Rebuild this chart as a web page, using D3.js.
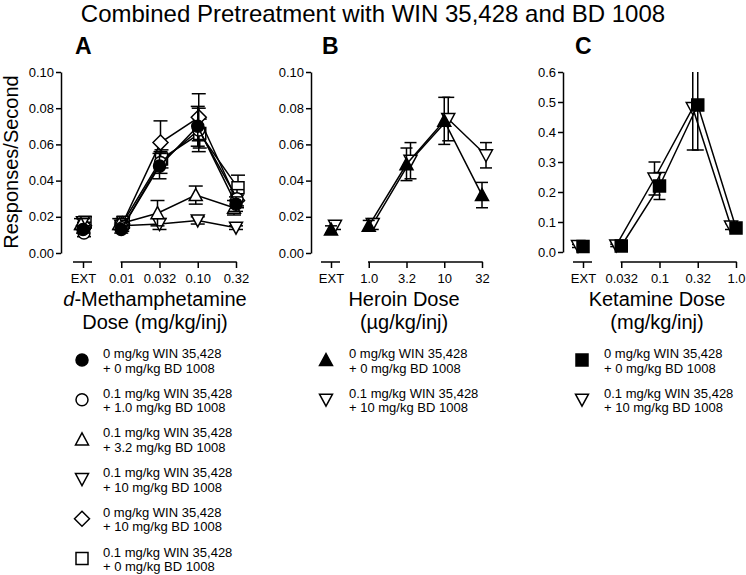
<!DOCTYPE html>
<html lang="en">
<head>
<meta charset="UTF-8">
<title>Combined Pretreatment with WIN 35,428 and BD 1008</title>
<script src="https://d3js.org/d3.v7.min.js"></script>
<style>
  body { margin: 0; background: #fff; }
  svg { display: block; font-family: "Liberation Sans", Arial, sans-serif; }
</style>
</head>
<body>
<script>
const width = 746, height = 575;

// ---- data ----
// panel A: d-methamphetamine
const methDoses = ["EXT", "0.01", "0.032", "0.10", "0.32"];
const methYTicks = [0, 0.02, 0.04, 0.06, 0.08, 0.10];
const methCtrl      = [0.013, 0.013, 0.048, 0.070, 0.027];
const methCtrlErr   = [0.002, 0.002, 0.007, 0.011, 0.004];
const methW01B1     = [0.011, 0.014, 0.050, 0.068, 0.030];
const methW01B1Err  = [0.002, 0.002, 0.006, 0.012, 0.005];
const methW01B32    = [0.016, 0.016, 0.022, 0.032, 0.025];
const methW01B32Err = [0.003, 0.003, 0.007, 0.005, 0.004];
const methW01B10    = [0.017, 0.015, 0.016, 0.018, 0.014];
const methW01B10Err = [0.002, 0.002, 0.003, 0.002, 0.001];
const methW0B10     = [0.015, 0.016, 0.061, 0.075, 0.029];
const methW0B10Err  = [0.002, 0.003, 0.012, 0.013, 0.003];
const methW01B0     = [0.017, 0.017, 0.052, 0.066, 0.036];
const methW01B0Err  = [0.003, 0.003, 0.005, 0.008, 0.007];

// panel B: heroin
const heroinDoses = ["EXT", "1.0", "3.2", "10", "32"];
const heroinYTicks = [0, 0.02, 0.04, 0.06, 0.08, 0.10];
const heroinCtrl     = [0.013, 0.015, 0.049, 0.073, 0.032];
const heroinCtrlErr  = [0.002, 0.003, 0.009, 0.013, 0.007];
const heroinCombo    = [0.015, 0.016, 0.051, 0.074, 0.054];
const heroinComboErr = [0.002, 0.003, 0.010, 0.012, 0.007];

// panel C: ketamine
const ketDoses = ["EXT", "0.032", "0.1", "0.32", "1.0"];
const ketYTicks = [0, 0.1, 0.2, 0.3, 0.4, 0.5, 0.6];
const ketCtrl     = [0.018, 0.020, 0.220, 0.490, 0.080];
const ketCtrlErr  = [0.005, 0.004, 0.045, 0.150, 0.010];
const ketCombo    = [0.020, 0.022, 0.245, 0.480, 0.085];
const ketComboErr = [0.005, 0.004, 0.055, 0.140, 0.010];

const legendCtrl = ["0 mg/kg WIN 35,428", "+ 0 mg/kg BD 1008"];
const legendW01B1 = ["0.1 mg/kg WIN 35,428", "+ 1.0 mg/kg BD 1008"];
const legendW01B32 = ["0.1 mg/kg WIN 35,428", "+ 3.2 mg/kg BD 1008"];
const legendW01B10 = ["0.1 mg/kg WIN 35,428", "+ 10 mg/kg BD 1008"];
const legendW0B10 = ["0 mg/kg WIN 35,428", "+ 10 mg/kg BD 1008"];
const legendW01B0 = ["0.1 mg/kg WIN 35,428", "+ 0 mg/kg BD 1008"];

// ---- layout ----
const panels = [
  {
    letter: "A", letterX: 75, cats: methDoses, xRange: [83, 236], axisX: 61,
    yTop: 72, yBottom: 253, yMax: 0.10, yTicks: methYTicks, fmt: ".2f", cap: 14,
    title: [["d", "-Methamphetamine"], "Dose (mg/kg/inj)"], titleX: 155,
    legendX: 82, textX: 103,
    series: [
      {values: methCtrl, err: methCtrlErr, shape: "circle", filled: true, dx: 0, legend: legendCtrl},
      {values: methW01B1, err: methW01B1Err, shape: "circle", filled: false, dx: 1, legend: legendW01B1},
      {values: methW01B32, err: methW01B32Err, shape: "triUp", filled: false, dx: -2, legend: legendW01B32},
      {values: methW01B10, err: methW01B10Err, shape: "triDown", filled: false, dx: 0, legend: legendW01B10},
      {values: methW0B10, err: methW0B10Err, shape: "diamond", filled: false, dx: 1, legend: legendW0B10},
      {values: methW01B0, err: methW01B0Err, shape: "square", filled: false, dx: 2, legend: legendW01B0}
    ]
  },
  {
    letter: "B", letterX: 322, cats: heroinDoses, xRange: [331, 482], axisX: 311,
    yTop: 72, yBottom: 253, yMax: 0.10, yTicks: heroinYTicks, fmt: ".2f", cap: 12,
    title: ["Heroin Dose", "(µg/kg/inj)"], titleX: 404,
    legendX: 326, textX: 349,
    series: [
      {values: heroinCtrl, err: heroinCtrlErr, shape: "triUp", filled: true, dx: 0, legend: legendCtrl},
      {values: heroinCombo, err: heroinComboErr, shape: "triDown", filled: false, dx: 4, legend: legendW01B10}
    ]
  },
  {
    letter: "C", letterX: 575, cats: ketDoses, xRange: [583, 736], axisX: 563,
    yTop: 72, yBottom: 252, yMax: 0.6, yTicks: ketYTicks, fmt: ".1f", cap: 12,
    title: ["Ketamine Dose", "(mg/kg/inj)"], titleX: 657,
    legendX: 582, textX: 604,
    series: [
      {values: ketCtrl, err: ketCtrlErr, shape: "square", filled: true, dx: 0, legend: legendCtrl},
      {values: ketCombo, err: ketComboErr, shape: "triDown", filled: false, dx: -5, legend: legendW01B10}
    ]
  }
];

const axisY = 262;
const legendY0 = 360, legendStep = 39.7;

function shapePath(kind) {
  const p = d3.path();
  if (kind === "circle") {
    p.moveTo(6, 0); p.arc(0, 0, 6, 0, 2 * Math.PI);
  } else if (kind === "triUp") {
    p.moveTo(0, -6.5); p.lineTo(6.5, 5.5); p.lineTo(-6.5, 5.5); p.closePath();
  } else if (kind === "triDown") {
    p.moveTo(0, 6.5); p.lineTo(6.5, -5.5); p.lineTo(-6.5, -5.5); p.closePath();
  } else if (kind === "diamond") {
    p.moveTo(0, -7.5); p.lineTo(7.5, 0); p.lineTo(0, 7.5); p.lineTo(-7.5, 0); p.closePath();
  } else {
    p.rect(-6, -6, 12, 12);
  }
  return p.toString();
}

const svg = d3.select("body").append("svg")
  .attr("width", width).attr("height", height)
  .attr("viewBox", [0, 0, width, height]);

svg.append("text")
  .attr("x", 373).attr("y", 22)
  .attr("text-anchor", "middle")
  .attr("font-size", 24)
  .text("Combined Pretreatment with WIN 35,428 and BD 1008");

svg.append("text")
  .attr("transform", "translate(18,162) rotate(-90)")
  .attr("text-anchor", "middle")
  .attr("font-size", 20)
  .text("Responses/Second");

panels.forEach(pn => {
  const g = svg.append("g");
  const x = d3.scalePoint().domain(pn.cats).range(pn.xRange);
  const y = d3.scaleLinear().domain([0, pn.yMax]).range([pn.yBottom, pn.yTop]);

  g.append("text")
    .attr("x", pn.letterX).attr("y", 54)
    .attr("font-size", 23).attr("font-weight", "bold")
    .text(pn.letter);

  // y axis
  const ya = g.append("g")
    .attr("transform", `translate(${pn.axisX},0)`)
    .call(d3.axisLeft(y).tickValues(pn.yTicks).tickFormat(d3.format(pn.fmt))
      .tickSize(5).tickSizeOuter(0).tickPadding(2));
  ya.selectAll("text").attr("font-size", 13).attr("font-family", null).attr("fill", "#000");
  ya.selectAll("line, path").attr("stroke", "#000").attr("stroke-width", 1.5);

  // x axis: separate EXT and dose segments
  const xa = g.append("g")
    .attr("transform", `translate(0,${axisY})`)
    .call(d3.axisBottom(x).tickSize(6).tickPadding(6));
  xa.select(".domain").remove();
  xa.selectAll("text").attr("font-size", 13).attr("font-family", null).attr("fill", "#000");
  xa.selectAll("line").attr("stroke", "#000").attr("stroke-width", 1.5);
  const ext = x(pn.cats[0]);
  xa.append("line").attr("x1", ext - 10).attr("x2", ext + 9)
    .attr("stroke", "#000").attr("stroke-width", 1.5);
  xa.append("line").attr("x1", x(pn.cats[1]) - 0.75).attr("x2", x(pn.cats[pn.cats.length - 1]) + 0.75)
    .attr("stroke", "#000").attr("stroke-width", 1.5);

  // x title
  const t1 = g.append("text").attr("x", pn.titleX).attr("y", 306)
    .attr("text-anchor", "middle").attr("font-size", 20);
  if (Array.isArray(pn.title[0])) {
    t1.append("tspan").attr("font-style", "italic").text(pn.title[0][0]);
    t1.append("tspan").text(pn.title[0][1]);
  } else {
    t1.text(pn.title[0]);
  }
  g.append("text").attr("x", pn.titleX).attr("y", 329)
    .attr("text-anchor", "middle").attr("font-size", 20)
    .text(pn.title[1]);

  // series, last drawn on top = first in list
  const order = pn.series.slice().reverse();
  order.forEach(s => {
    const pts = s.values.map((v, i) => ({cat: pn.cats[i], v, e: s.err[i]}));
    const sg = g.append("g");
    const px = d => x(d.cat) + s.dx;

    sg.append("path")
      .datum(pts.slice(1))
      .attr("fill", "none").attr("stroke", "#000").attr("stroke-width", 1.5)
      .attr("d", d3.line().x(px).y(d => y(d.v)));

    pts.forEach(d => {
      const top = Math.min(d.v + d.e, pn.yMax);
      const bot = Math.max(d.v - d.e, 0);
      sg.append("line")
        .attr("x1", px(d)).attr("x2", px(d))
        .attr("y1", y(bot)).attr("y2", y(top))
        .attr("stroke", "#000").attr("stroke-width", 1.5);
      if (d.v + d.e <= pn.yMax) {
        sg.append("line")
          .attr("x1", px(d) - pn.cap / 2).attr("x2", px(d) + pn.cap / 2)
          .attr("y1", y(top)).attr("y2", y(top))
          .attr("stroke", "#000").attr("stroke-width", 1.5);
      }
      sg.append("line")
        .attr("x1", px(d) - pn.cap / 2).attr("x2", px(d) + pn.cap / 2)
        .attr("y1", y(bot)).attr("y2", y(bot))
        .attr("stroke", "#000").attr("stroke-width", 1.5);
    });

    sg.selectAll("path.mark")
      .data(pts)
      .join("path")
      .attr("class", "mark")
      .attr("transform", d => `translate(${px(d)},${y(d.v)})`)
      .attr("d", shapePath(s.shape))
      .attr("fill", s.filled ? "#000" : "#fff")
      .attr("stroke", "#000").attr("stroke-width", 1.5);
  });

  // legend
  pn.series.forEach((s, i) => {
    const cy = legendY0 + i * legendStep;
    g.append("path")
      .attr("transform", `translate(${pn.legendX},${cy})`)
      .attr("d", shapePath(s.shape))
      .attr("fill", s.filled ? "#000" : "#fff")
      .attr("stroke", "#000").attr("stroke-width", 1.5);
    const tx = g.append("text").attr("font-size", 13).attr("fill", "#000");
    tx.append("tspan").attr("x", pn.textX).attr("y", cy - 2).text(s.legend[0]);
    tx.append("tspan").attr("x", pn.textX).attr("y", cy + 12.5).text(s.legend[1]);
  });
});
</script>
</body>
</html>
